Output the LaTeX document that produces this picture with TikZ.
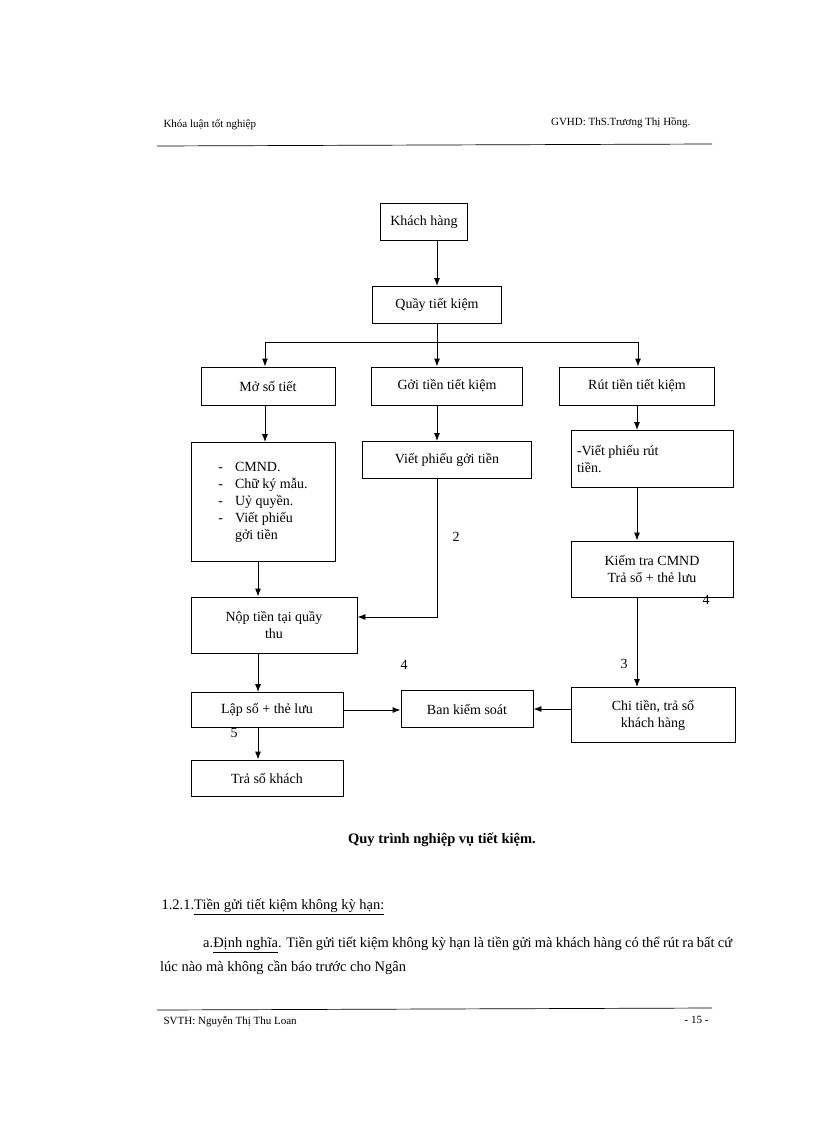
\documentclass[tikz,border=0pt]{standalone}
\usepackage{fontspec}
\setmainfont{Liberation Serif}
\usetikzlibrary{arrows.meta}
\begin{document}
\begin{tikzpicture}[x=1pt,y=-1pt,
  box/.style={draw,line width=0.9pt,font=\fontsize{14}{17}\selectfont,align=center,inner sep=0},
  arr/.style={-{Latex[length=8pt,width=6pt]},line width=0.9pt},
  lab/.style={font=\fontsize{14}{16}\selectfont}]
\useasboundingbox (0,0) rectangle (816,1123);
\node[anchor=west,font=\fontsize{11}{13}\selectfont] (h1) at (160,125) {Khóa luận tốt nghiệp};
\node[anchor=east,font=\fontsize{11}{13}\selectfont] (h2) at (694,123) {GVHD: ThS.Trương Thị Hồng.};
\draw[line width=0.7pt] (157,146) -- (712,144);
% boxes
\node[box,minimum width=87,minimum height=37] (kh) at (424,222) {Khách hàng};
\node[box,minimum width=129,minimum height=37] (qt) at (437,305) {Quầy tiết kiệm};
\node[box,minimum width=134,minimum height=38] (ms) at (268,386) {Mở sổ tiết};
\node[box,minimum width=151,minimum height=38] (gt) at (447,386) {Gởi tiền tiết kiệm};
\node[box,minimum width=155,minimum height=38] (rt) at (637,386) {Rút tiền tiết kiệm};
\node[box,minimum width=144,minimum height=119,align=left] (cm) at (263,502) {%
\begin{tabular}{@{}l@{\hspace{12pt}}l@{}}-&CMND.\\-&Chữ ký mẫu.\\-&Uỷ quyền.\\-&Viết phiếu\\&gởi tiền\end{tabular}};
\node[box,minimum width=169,minimum height=37] (vg) at (447,460) {Viết phiếu gởi tiền};
\node[box,minimum width=162,minimum height=57,align=left] (vr) at (652,459) {\parbox{150pt}{-Viết phiếu rút\\tiền.}};
\node[box,minimum width=162,minimum height=56] (kt) at (652,569) {Kiểm tra CMND\\Trả sổ + thẻ lưu};
\node[box,minimum width=166,minimum height=56] (np) at (274,625) {Nộp tiền tại quầy\\thu};
\node[box,minimum width=152,minimum height=35] (ls) at (267,710) {Lập sổ + thẻ lưu};
\node[box,minimum width=132,minimum height=37] (bk) at (467,709) {Ban kiểm soát};
\node[box,minimum width=164,minimum height=55] (ct) at (653,715) {Chi tiền, trả sổ\\khách hàng};
\node[box,minimum width=152,minimum height=36] (ts) at (267,778) {Trả sổ khách};
% connectors
\coordinate (jc) at (437,342);
\draw[arr] (kh.south -| 437,0) -- (qt.north -| 437,0);
\draw[line width=0.9pt] (qt.south) -- (jc);
\draw[arr] (jc) -| (ms.north -| 265,0);
\draw[arr] (jc) -| (rt.north -| 638,0);
\draw[arr] (gt.north -| 437,0) ++(0,-25) -- (gt.north -| 437,0);
\draw[arr] (ms.south -| 265,0) -- (cm.north -| 265,0);
\draw[arr] (gt.south -| 437,0) -- (vg.north -| 437,0);
\draw[arr] (rt.south -| 637,0) -- (vr.north -| 637,0);
\draw[arr] (vr.south -| 637,0) -- (kt.north -| 637,0);
\draw[arr] (kt.south -| 637,0) -- (ct.north -| 637,0);
\draw[arr] (cm.south -| 258,0) -- (np.north -| 258,0);
\draw[arr] (vg.south -| 437,0) |- (np.east |- 0,617);
\draw[arr] (np.south -| 258,0) -- (ls.north -| 258,0);
\draw[arr] (ls.east) -- (bk.west |- ls.east);
\draw[arr] (ct.west |- bk.east) -- (bk.east);
\draw[arr] (ls.south -| 258,0) -- (ts.north -| 258,0);
\node[lab] (l2) at (456,537) {2};
\node[lab] (l4a) at (706,600) {4};
\node[lab] (l4b) at (404,665) {4};
\node[lab] (l3) at (624,664) {3};
\node[lab] (l5) at (234,733) {5};
% text
\node[font=\fontsize{14.5}{17}\selectfont\bfseries] (cap) at (442,840) {Quy trình nghiệp vụ tiết kiệm.};
\node[anchor=west,font=\fontsize{14.5}{17}\selectfont] (sec) at (158,907) {1.2.1.\underline{Tiền gửi tiết kiệm không kỳ hạn:}};
\node[anchor=north west,font=\fontsize{14.5}{24}\selectfont,inner sep=0,text width=572pt,align=justify] (par) at (160,937) {\hspace*{43pt}a.\underline{Định nghĩa}. Tiền gửi tiết kiệm không kỳ hạn là tiền gửi mà khách hàng có thể rút ra bất cứ lúc nào mà không cần báo trước cho Ngân\hspace*{0pt plus 0pt}\\[-24pt]\mbox{}};
\draw[line width=0.7pt] (157,1010) -- (712,1008);
\node[anchor=west,font=\fontsize{11}{13}\selectfont] (f1) at (160,1022) {SVTH: Nguyễn Thị Thu Loan};
\node[anchor=east,font=\fontsize{11}{13}\selectfont] (f2) at (712,1020) {- 15 -};
\end{tikzpicture}
\end{document}
